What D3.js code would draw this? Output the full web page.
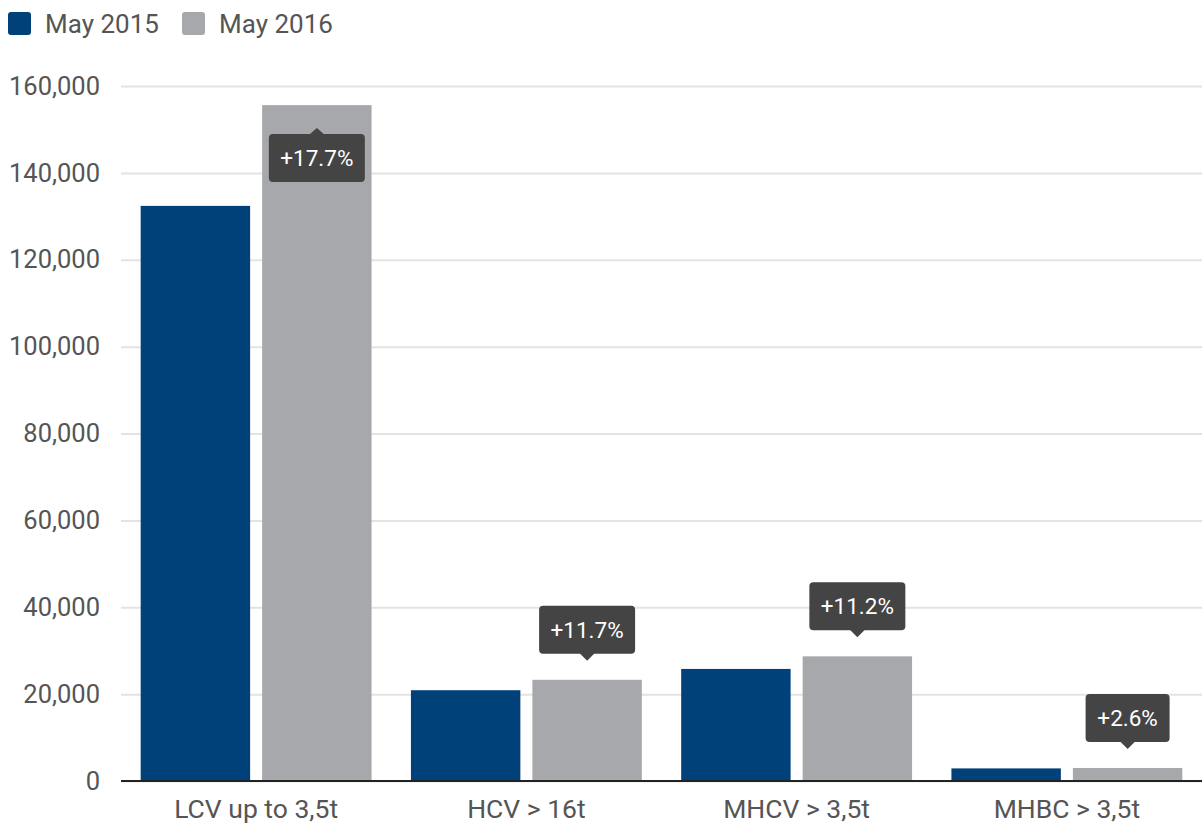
<!DOCTYPE html>
<html>
<head>
<meta charset="utf-8">
<script src="https://cdn.jsdelivr.net/npm/d3@7"></script>
<style>
  body { margin: 0; background: #fff; }
  svg { font-family: Roboto, "Noto Sans", sans-serif; }
</style>
</head>
<body>
<div id="chart"></div>
<script>
var categories = ["LCV up to 3,5t", "HCV > 16t", "MHCV > 3,5t", "MHBC > 3,5t"];
var seriesNames = ["May 2015", "May 2016"];
var may2015 = [132400, 20900, 25800, 2900];
var may2016 = [155600, 23300, 28700, 3000];
var changeLabels = ["+17.7%", "+11.7%", "+11.2%", "+2.6%"];
var yTicks = [0, 20000, 40000, 60000, 80000, 100000, 120000, 140000, 160000];

var colors = ["#00417a", "#a7a8ab"];

var width = 1202, height = 825;
var margin = {left: 121, right: 0, top: 86, bottom: 44};

var svg = d3.select("#chart").append("svg")
  .attr("width", width)
  .attr("height", height);

var x0 = d3.scaleBand()
  .domain(categories)
  .range([margin.left, width - margin.right])
  .padding(0);

var x1 = d3.scaleBand()
  .domain(seriesNames)
  .range([0, x0.bandwidth()])
  .paddingInner(0.099)
  .paddingOuter(0.162);

var y = d3.scaleLinear()
  .domain([0, 160000])
  .range([height - margin.bottom, margin.top]);

// grid + y labels
var yAxis = d3.axisLeft(y)
  .tickValues(yTicks)
  .tickFormat(d3.format(","))
  .tickSizeInner(-(width - margin.left - margin.right))
  .tickSizeOuter(0)
  .tickPadding(21);

var gy = svg.append("g")
  .attr("transform", "translate(" + margin.left + ",0)")
  .call(yAxis);
gy.select(".domain").remove();
gy.selectAll(".tick line").attr("stroke", "#e3e3e3").attr("stroke-width", 2);
gy.selectAll(".tick text")
  .attr("fill", "#555")
  .style("font-size", "25.5px")
  .style("font-family", "Roboto, sans-serif");

// bars
var rows = categories.map(function(c, i) {
  return {cat: c, values: [may2015[i], may2016[i]], label: changeLabels[i]};
});

var groups = svg.selectAll(".grp")
  .data(rows)
  .enter().append("g")
  .attr("transform", function(d) { return "translate(" + x0(d.cat) + ",0)"; });

groups.selectAll("rect")
  .data(function(d) { return d.values.map(function(v, j) { return {s: seriesNames[j], v: v, j: j}; }); })
  .enter().append("rect")
  .attr("x", function(d) { return x1(d.s); })
  .attr("y", function(d) { return y(d.v); })
  .attr("width", x1.bandwidth())
  .attr("height", function(d) { return y(0) - y(d.v); })
  .attr("fill", function(d) { return colors[d.j]; });

// baseline
svg.append("line")
  .attr("x1", margin.left).attr("x2", width - margin.right)
  .attr("y1", y(0)).attr("y2", y(0))
  .attr("stroke", "#222").attr("stroke-width", 2);

// x labels
var xAxis = d3.axisBottom(x0).tickSize(0).tickPadding(18);
var gx = svg.append("g")
  .attr("transform", "translate(0," + y(0) + ")")
  .call(xAxis);
gx.select(".domain").remove();
gx.selectAll(".tick text")
  .attr("fill", "#555")
  .style("font-size", "26.5px")
  .style("font-family", "Roboto, sans-serif");

// change callouts
var boxW = 96, boxH = 48, arrowH = 7, arrowW = 8;
rows.forEach(function(d) {
  var cx = x0(d.cat) + x1(seriesNames[1]) + x1.bandwidth() / 2;
  var top = y(d.values[1]);
  var g = svg.append("g");
  var w = d.label.length > 5 ? boxW : 84;
  var tip, bx, by, arrow;
  if (top - 20 - arrowH - boxH < margin.top) {
    tip = top + 23;
    by = tip + 6;
    arrow = [[cx - arrowW, by + 1], [cx, tip], [cx + arrowW, by + 1]];
  } else {
    tip = top - 19;
    by = tip - arrowH - boxH;
    arrow = [[cx - arrowW, by + boxH - 1], [cx, tip], [cx + arrowW, by + boxH - 1]];
  }
  bx = cx - w / 2;
  g.append("rect")
    .attr("x", bx).attr("y", by)
    .attr("width", w).attr("height", boxH)
    .attr("rx", 4)
    .attr("fill", "#444");
  g.append("path")
    .attr("d", d3.line()(arrow) + "Z")
    .attr("fill", "#444");
  g.append("text")
    .attr("x", cx).attr("y", by + boxH / 2 + 8)
    .attr("text-anchor", "middle")
    .attr("fill", "#fff")
    .style("font-size", "22.5px")
    .text(d.label);
});

// legend
var legend = svg.append("g").attr("transform", "translate(8,12)");
var lx = [0, 174];
seriesNames.forEach(function(s, i) {
  var item = legend.append("g").attr("transform", "translate(" + lx[i] + ",0)");
  item.append("rect")
    .attr("width", 23).attr("height", 23).attr("rx", 3)
    .attr("fill", colors[i]);
  item.append("text")
    .attr("x", 37).attr("y", 21)
    .attr("fill", "#555")
    .style("font-size", "26px")
    .text(s);
});
</script>
</body>
</html>
